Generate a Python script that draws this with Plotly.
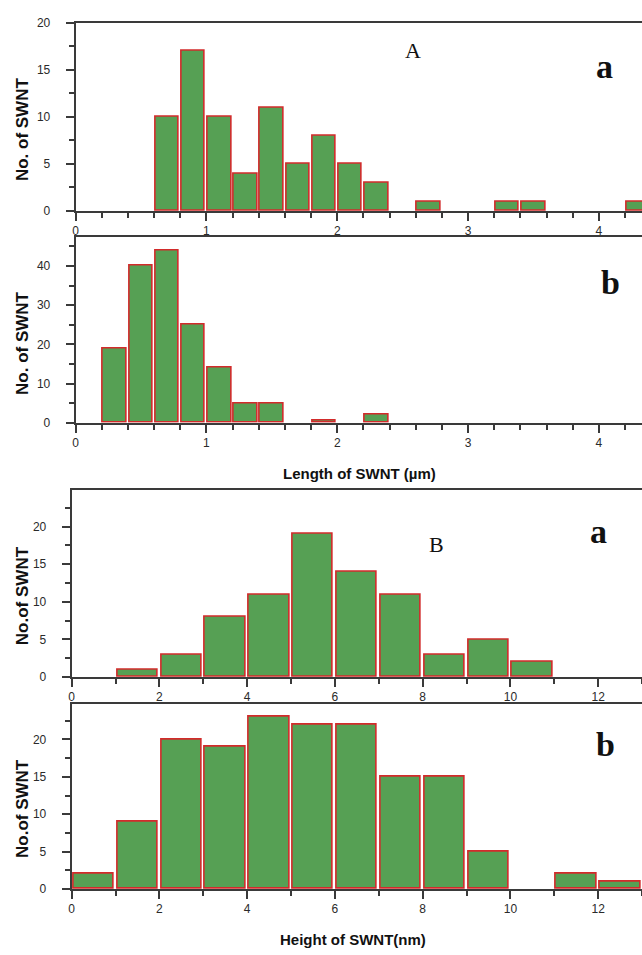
import plotly.graph_objects as go

# ---------------- data ----------------
# Panel A-a : length distribution (µm), bin width 0.2
len_a_bins = [0.6, 0.8, 1.0, 1.2, 1.4, 1.6, 1.8, 2.0, 2.2, 2.6, 3.2, 3.4, 4.2]
len_a_counts = [10, 17, 10, 4, 11, 5, 8, 5, 3, 1, 1, 1, 1]
# Panel A-b
len_b_bins = [0.2, 0.4, 0.6, 0.8, 1.0, 1.2, 1.4, 1.8, 2.2]
len_b_counts = [19, 40, 44, 25, 14, 5, 5, 0.5, 2]
# Panel B-a : height distribution (nm), bin width 1
hgt_a_bins = [1, 2, 3, 4, 5, 6, 7, 8, 9, 10]
hgt_a_counts = [1, 3, 8, 11, 19, 14, 11, 3, 5, 2]
# Panel B-b
hgt_b_bins = [0, 1, 2, 3, 4, 5, 6, 7, 8, 9, 11, 12]
hgt_b_counts = [2, 9, 20, 19, 23, 22, 22, 15, 15, 5, 2, 1]

len_ticks = [0, 1, 2, 3, 4]
hgt_ticks = [0, 2, 4, 6, 8, 10, 12]

W, H = 642, 955
FILL = "#56A054"
EDGE = "#D22B2B"
AXC = "#3a3a3a"
TICKFONT = dict(family="Liberation Sans", size=12, color="#2a2a2a")


def py(p):
    return 1 - p / H


def px(p):
    return p / W


fig = go.Figure()

panels = [
    # bins, counts, binw, barw, xdomain_left, top, bottom, xrange, yrange, ydtick, yminor, xticks, xminor
    (len_a_bins, len_a_counts, 0.2, 0.18, 73, 16, 207, [0, 4.33], [0, 20], 5, 2.5, len_ticks, 0.2),
    (len_b_bins, len_b_counts, 0.2, 0.18, 73, 233, 422, [0, 4.33], [0, 47.5], 10, 5, len_ticks, 0.2),
    (hgt_a_bins, hgt_a_counts, 1.0, 0.92, 69, 490, 680, [0, 13.0], [0, 24.9], 5, 2.5, hgt_ticks, 1),
    (hgt_b_bins, hgt_b_counts, 1.0, 0.92, 69, 707, 895, [0, 13.0], [0, 24.8], 5, 2.5, hgt_ticks, 1),
]

layout_axes = {}
for i, (bins, counts, bw, barw, xl, top, bot, xr, yr, ydt, ymin, xt, xmin) in enumerate(panels, start=1):
    xname = "x" if i == 1 else f"x{i}"
    yname = "y" if i == 1 else f"y{i}"
    centers = [b + bw / 2 for b in bins]
    fig.add_trace(go.Bar(
        x=centers, y=counts, width=barw,
        marker=dict(color=FILL, line=dict(color=EDGE, width=1.6)),
        xaxis=xname, yaxis=yname, showlegend=False,
    ))
    layout_axes[("xaxis" if i == 1 else f"xaxis{i}")] = dict(
        domain=[px(xl), 1.0], range=xr, anchor=yname,
        showline=True, linecolor=AXC, linewidth=2, mirror=True,
        showgrid=False, zeroline=False,
        ticks="outside", ticklen=8, tickwidth=1.5, tickcolor=AXC,
        tickvals=xt, ticktext=[str(v) for v in xt],
        tickfont=TICKFONT, ticklabelstandoff=0,
        minor=dict(dtick=xmin, tick0=0, ticks="outside", ticklen=5, tickwidth=1.5, tickcolor=AXC),
        fixedrange=True,
    )
    layout_axes[("yaxis" if i == 1 else f"yaxis{i}")] = dict(
        domain=[py(bot), py(top)], range=yr, anchor=xname,
        showline=True, linecolor=AXC, linewidth=2,
        showgrid=False, zeroline=False,
        ticks="outside", ticklen=8, tickwidth=1.5, tickcolor=AXC,
        dtick=ydt, tick0=0,
        tickfont=TICKFONT, ticklabelstandoff=13,
        minor=dict(dtick=ymin, tick0=0, ticks="outside", ticklen=5, tickwidth=1.5, tickcolor=AXC),
        fixedrange=True,
    )

annotations = []
# y-axis titles
for yc, txt in [(124, "No. of SWNT"), (341, "No. of SWNT"), (597, "No.of SWNT"), (813, "No.of SWNT")]:
    annotations.append(dict(
        x=px(19), y=py(yc), xref="paper", yref="paper", text=txt, textangle=-90,
        showarrow=False, xanchor="center", yanchor="middle",
        font=dict(family="Liberation Sans", size=17, color="#111111", weight="bold"),
    ))
# x-axis titles
annotations.append(dict(
    x=px(358), y=py(473), xref="paper", yref="paper", text="Length of SWNT (µm)",
    showarrow=False, xanchor="center", yanchor="middle",
    font=dict(family="Liberation Sans", size=15, color="#111111", weight="bold"),
))
annotations.append(dict(
    x=px(352), y=py(946), xref="paper", yref="paper", text="Height of SWNT(nm)",
    showarrow=False, xanchor="center", yanchor="middle",
    font=dict(family="Liberation Sans", size=15, color="#111111", weight="bold"),
))
# panel letters
for x0, y0, txt, sz, bold in [
    (412, 44, "A", 22, False),
    (436, 545, "B", 22, False),
    (604, 60, "a", 34, True),
    (610, 280, "b", 34, True),
    (598, 532, "a", 34, True),
    (605, 748, "b", 34, True),
]:
    annotations.append(dict(
        x=px(x0), y=py(y0), xref="paper", yref="paper", text=txt,
        showarrow=False, xanchor="center", yanchor="middle",
        font=dict(family="Liberation Serif", size=sz, color="#111111",
                  weight="bold" if bold else "normal"),
    ))

fig.update_layout(
    width=W, height=H,
    margin=dict(l=0, r=0, t=0, b=0),
    paper_bgcolor="white", plot_bgcolor="white",
    bargap=0, annotations=annotations,
    **layout_axes,
)

fig.write_html("out.html", config={"displayModeBar": False})
